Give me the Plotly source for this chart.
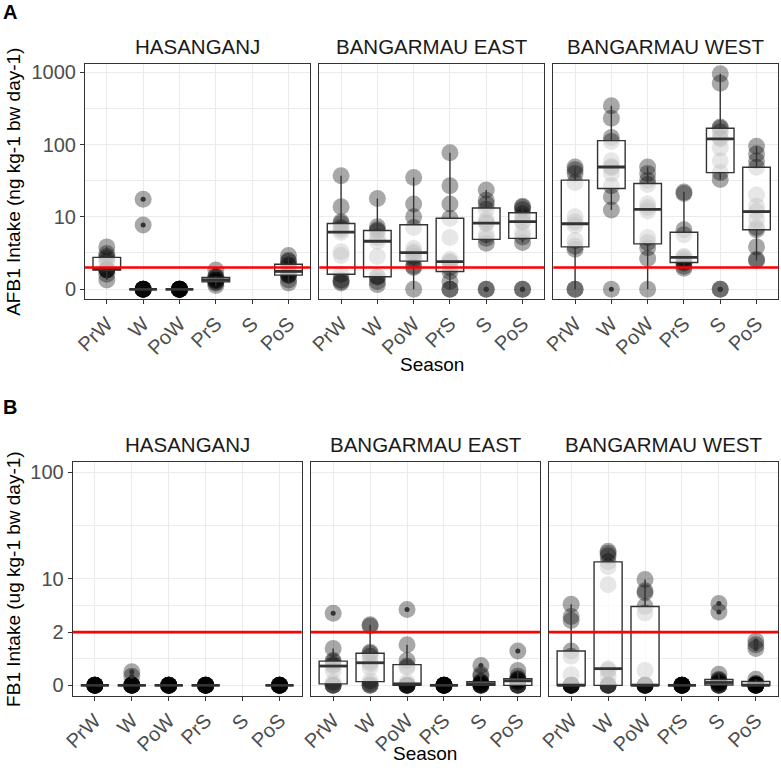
import numpy as np
import plotly.graph_objects as go

SEASONS = ["PrW", "W", "PoW", "PrS", "S", "PoS"]
REGIONS = ["HASANGANJ", "BANGARMAU EAST", "BANGARMAU WEST"]

# ---- Panel A: AFB1 intake (ng kg-1 bw day-1) ----
A_HAS_PrW = [0.6, 1.0, 1.3, 1.3, 1.3, 1.4, 2.0, 2.3, 2.5, 2.8, 3.6]
A_HAS_W = [0, 0, 0, 0, 0, 0, 0, 0, 7.6, 17.5]
A_HAS_PoW = [0, 0, 0, 0, 0, 0, 0, 0, 0, 0]
A_HAS_PrS = [0.25, 0.4, 0.45, 0.55, 0.6, 0.6, 0.7, 0.8, 0.85, 1.3]
A_HAS_S = []
A_HAS_PoS = [0.4, 0.6, 0.9, 0.95, 1.0, 1.1, 1.3, 1.6, 1.7, 2.0, 2.1, 2.6]

A_EAST_PrW = [0.4, 0.5, 0.6, 1.0, 2.6, 3.0, 6.0, 6.5, 7.0, 8.0, 8.5, 13.8, 37]
A_EAST_W = [0.3, 0.5, 0.8, 0.85, 2.5, 4.4, 5.0, 6.2, 6.5, 7.2, 18]
A_EAST_PoW = [0, 1.5, 1.6, 2.2, 2.5, 2.8, 3.0, 3.4, 7.0, 10, 15, 35]
A_EAST_PrS = [0, 0, 0.5, 1.2, 1.5, 1.9, 2.0, 2.2, 5, 9.5, 15, 27, 77]
A_EAST_S = [0, 0, 4.1, 4.9, 5.5, 8.0, 8.2, 9, 12.7, 15, 17, 23.6]
A_EAST_PoS = [0, 0, 4.2, 5.1, 6, 8.3, 8.7, 10, 11, 12.5, 13.5, 14]

A_WEST_PrW = [0, 0, 3.3, 3.7, 4.5, 7.5, 8.4, 10, 30, 40, 45, 49]
A_WEST_W = [0, 12.4, 19, 27, 40, 48, 50, 60, 110, 125, 231, 345]
A_WEST_PoW = [0, 2.3, 3.5, 4.2, 5, 12, 13.4, 15, 28, 32, 40, 49]
A_WEST_PrS = [1.45, 1.6, 1.85, 2.0, 2.2, 2.4, 2.5, 5.5, 6.5, 21, 22]
A_WEST_S = [0, 0, 33, 41, 60, 90, 120, 125, 150, 168, 175, 705, 950]
A_WEST_PoS = [2.1, 2.2, 3.6, 6.5, 7, 9, 11.8, 14, 20, 48.6, 60, 75, 95]

# ---- Panel B: FB1 intake (ug kg-1 bw day-1) ----
B_HAS_PrW = [0, 0, 0, 0, 0, 0, 0, 0, 0, 0]
B_HAS_W = [0, 0, 0, 0, 0, 0, 0, 0, 0.3, 0.45]
B_HAS_PoW = [0, 0, 0, 0, 0, 0, 0, 0, 0, 0]
B_HAS_PrS = [0, 0, 0, 0, 0, 0, 0, 0, 0, 0]
B_HAS_S = []
B_HAS_PoS = [0, 0, 0, 0, 0, 0, 0, 0, 0, 0]

B_EAST_PrW = [0, 0, 0, 0.1, 0.5, 0.65, 0.7, 0.8, 0.85, 1.3, 3.75]
B_EAST_W = [0, 0, 0.05, 0.15, 0.6, 0.73, 0.8, 1.0, 1.1, 1.15, 2.5, 2.6]
B_EAST_PoW = [0, 0, 0, 0, 0, 0, 0.1, 0.6, 0.65, 0.85, 1.45, 4.2]
B_EAST_PrS = [0, 0, 0, 0, 0, 0, 0, 0, 0, 0]
B_EAST_S = [0, 0, 0, 0, 0.02, 0.04, 0.05, 0.08, 0.1, 0.12, 0.3, 0.37, 0.67]
B_EAST_PoS = [0, 0, 0, 0, 0.1, 0.14, 0.15, 0.18, 0.2, 0.22, 0.3, 0.5, 1.2]

B_WEST_PrW = [0, 0, 0, 0, 0, 0, 0, 0.35, 1.0, 1.2, 3.0, 3.4, 4.9]
B_WEST_W = [0, 0, 0, 0, 0.3, 0.5, 0.56, 8.5, 13, 14.5, 16.5, 17.5, 18.2]
B_WEST_PoW = [0, 0, 0, 0, 0, 0, 0, 0.5, 3.8, 4.6, 6.8, 7.2, 9.8]
B_WEST_PrS = [0, 0, 0, 0, 0, 0, 0, 0, 0, 0]
B_WEST_S = [0, 0, 0, 0, 0.05, 0.08, 0.09, 0.1, 0.15, 0.17, 0.2, 0.37, 3.9, 5.0]
B_WEST_PoS = [0, 0, 0, 0, 0, 0, 0, 0, 0.03, 0.05, 0.06, 0.2, 1.3, 1.45, 1.6]

A_TICKS = [0, 10, 100, 1000]
B_TICKS = [0, 2, 10, 100]
THRESH_A = 1.5
THRESH_B = 2

A_GROUPS = [
    [A_HAS_PrW, A_HAS_W, A_HAS_PoW, A_HAS_PrS, A_HAS_S, A_HAS_PoS],
    [A_EAST_PrW, A_EAST_W, A_EAST_PoW, A_EAST_PrS, A_EAST_S, A_EAST_PoS],
    [A_WEST_PrW, A_WEST_W, A_WEST_PoW, A_WEST_PrS, A_WEST_S, A_WEST_PoS],
]
B_GROUPS = [
    [B_HAS_PrW, B_HAS_W, B_HAS_PoW, B_HAS_PrS, B_HAS_S, B_HAS_PoS],
    [B_EAST_PrW, B_EAST_W, B_EAST_PoW, B_EAST_PrS, B_EAST_S, B_EAST_PoS],
    [B_WEST_PrW, B_WEST_W, B_WEST_PoW, B_WEST_PrS, B_WEST_S, B_WEST_PoS],
]


def tA(x):
    return np.arcsinh(np.asarray(x, dtype=float) / 2.0) / np.log(10)


_BK = tA([0, 2, 10, 100])


def tB(x):
    return np.interp(tA(x), _BK, [0, 0.5, 1.0, 2.0])


W, H = 781, 775
FONT = "Liberation Sans, Arial, sans-serif"
GRID = "#EBEBEB"
DARK = "#333333"


def px(x):
    return x / W


def py(y):
    return 1 - y / H


PANELS = [
    [(85, 310.3), (319.3, 544.3), (553.3, 778.3)],
    [(72.7, 301.7), (311, 540), (549, 778)],
]
ROW_Y = [(64.3, 299.3), (461.7, 696)]
ROW_RANGE = [(-0.138, 3.11), (-0.1, 2.1)]
ROW_TF = [tA, tB]
ROW_GROUPS = [A_GROUPS, B_GROUPS]
ROW_TICKS = [A_TICKS, B_TICKS]
ROW_THRESH = [THRESH_A, THRESH_B]

fig = go.Figure()
layout = dict(
    template="none",
    width=W, height=H, autosize=False,
    margin=dict(l=0, r=0, t=0, b=0, pad=0),
    paper_bgcolor="white", plot_bgcolor="white",
    showlegend=False, boxmode="overlay",
    font=dict(family=FONT, color="#4D4D4D"),
)
shapes = []
annotations = []

BOXW = 0.76
TICKSIZE = 20
k = 0
for r in range(2):
    tf = ROW_TF[r]
    tickvals = list(tf(ROW_TICKS[r]))
    minor = [(tickvals[i] + tickvals[i + 1]) / 2 for i in range(len(tickvals) - 1)]
    for c in range(3):
        k += 1
        xn = "x" if k == 1 else f"x{k}"
        yn = "y" if k == 1 else f"y{k}"
        x0, x1 = PANELS[r][c]
        y0, y1 = ROW_Y[r]
        groups = ROW_GROUPS[r][c]

        xs, ys = [], []
        for j, vals in enumerate(groups):
            xs += [j] * len(vals)
            ys += list(tf(vals))
        fig.add_trace(go.Box(
            x=xs, y=ys, xaxis=xn, yaxis=yn, boxpoints="all", jitter=0, pointpos=0,
            marker=dict(size=17, color="rgba(0,0,0,0.34)", line=dict(width=0)),
            line=dict(width=0, color="rgba(0,0,0,0)"), fillcolor="rgba(0,0,0,0)",
            width=BOXW, hoverinfo="skip", showlegend=False,
        ))

        pos, q1s, meds, q3s, lfs, ufs = [], [], [], [], [], []
        ox, oy, mx, my = [], [], [], []
        for j, vals in enumerate(groups):
            if len(vals) == 0:
                continue
            t = np.asarray(tf(vals))
            q1, med, q3 = np.percentile(t, [25, 50, 75])
            iqr = q3 - q1
            inside = t[(t >= q1 - 1.5 * iqr) & (t <= q3 + 1.5 * iqr)]
            lf, uf = inside.min(), inside.max()
            pos.append(j); q1s.append(q1); meds.append(med); q3s.append(q3)
            lfs.append(lf); ufs.append(uf)
            for v in t[(t < lf) | (t > uf)]:
                ox.append(j); oy.append(v)
            mx += [j - BOXW / 2, j + BOXW / 2, None]
            my += [med, med, None]
        fig.add_trace(go.Box(
            x=pos, q1=q1s, median=meds, q3=q3s, lowerfence=lfs, upperfence=ufs,
            xaxis=xn, yaxis=yn, boxpoints=False, width=BOXW, whiskerwidth=0,
            fillcolor="rgba(255,255,255,0.72)", line=dict(color=DARK, width=1.4),
            hoverinfo="skip", showlegend=False,
        ))
        fig.add_trace(go.Scatter(
            x=mx, y=my, xaxis=xn, yaxis=yn, mode="lines",
            line=dict(color=DARK, width=2.8), hoverinfo="skip", showlegend=False,
        ))
        fig.add_trace(go.Scatter(
            x=ox, y=oy, xaxis=xn, yaxis=yn, mode="markers",
            marker=dict(size=5, color=DARK), hoverinfo="skip", showlegend=False,
        ))

        layout["xaxis" if k == 1 else f"xaxis{k}"] = dict(
            domain=[px(x0), px(x1)], anchor=yn, range=[-0.6, 5.6], automargin=False,
            tickmode="array", tickvals=list(range(6)), ticktext=SEASONS, tickangle=-45,
            ticks="outside", ticklen=4, tickcolor=DARK, tickwidth=1,
            tickfont=dict(size=TICKSIZE, color="#4D4D4D", family=FONT),
            showgrid=True, gridcolor=GRID, gridwidth=1.1, zeroline=False,
            showline=True, linecolor=DARK, linewidth=1, mirror=True,
        )
        ya = dict(
            domain=[py(y1), py(y0)], anchor=xn, range=list(ROW_RANGE[r]), automargin=False,
            tickmode="array", tickvals=tickvals, ticktext=[str(v) for v in ROW_TICKS[r]],
            showgrid=True, gridcolor=GRID, gridwidth=1.1, zeroline=False,
            minor=dict(tickmode="array", tickvals=minor, showgrid=True, gridcolor=GRID,
                       gridwidth=0.6, ticks=""),
            showline=True, linecolor=DARK, linewidth=1, mirror=True,
            tickfont=dict(size=TICKSIZE, color="#4D4D4D", family=FONT),
        )
        if c == 0:
            ya.update(ticks="outside", ticklen=4, tickcolor=DARK, tickwidth=1)
        else:
            ya.update(showticklabels=False, ticks="")
        layout["yaxis" if k == 1 else f"yaxis{k}"] = ya

        shapes.append(dict(
            type="line", xref=f"{xn} domain", x0=0, x1=1, yref=yn,
            y0=float(tf(ROW_THRESH[r])), y1=float(tf(ROW_THRESH[r])),
            line=dict(color="#FF0000", width=2.6), layer="above",
        ))
        annotations.append(dict(
            text=REGIONS[c], x=px((x0 + x1) / 2), y=py(y0 - 17.5),
            xref="paper", yref="paper", showarrow=False,
            font=dict(size=20.5, color="#1A1A1A", family=FONT),
            xanchor="center", yanchor="middle",
        ))

annotations += [
    dict(text="Season", x=px((85 + 778.3) / 2), y=py(364), xref="paper", yref="paper",
         showarrow=False, font=dict(size=19, color="black", family=FONT), xanchor="center", yanchor="middle"),
    dict(text="Season", x=px((72.7 + 778) / 2), y=py(753), xref="paper", yref="paper",
         showarrow=False, font=dict(size=19, color="black", family=FONT), xanchor="center", yanchor="middle"),
    dict(text="AFB1 Intake (ng kg-1 bw day-1)", x=px(14), y=py(181.8), xref="paper", yref="paper",
         showarrow=False, textangle=-90, font=dict(size=19, color="black", family=FONT),
         xanchor="center", yanchor="middle"),
    dict(text="FB1 Intake (ug kg-1 bw day-1)", x=px(14), y=py(578.9), xref="paper", yref="paper",
         showarrow=False, textangle=-90, font=dict(size=19, color="black", family=FONT),
         xanchor="center", yanchor="middle"),
    dict(text="<b>A</b>", x=px(10), y=py(12), xref="paper", yref="paper", showarrow=False,
         font=dict(size=20, color="black", family=FONT), xanchor="center", yanchor="middle"),
    dict(text="<b>B</b>", x=px(10), y=py(407), xref="paper", yref="paper", showarrow=False,
         font=dict(size=20, color="black", family=FONT), xanchor="center", yanchor="middle"),
]
layout["shapes"] = shapes
layout["annotations"] = annotations
fig.update_layout(**layout)
fig.write_html(
    "out.html",
    config={"displayModeBar": False},
    post_script="document.body.style.margin='0px';document.body.style.overflow='hidden';",
)
